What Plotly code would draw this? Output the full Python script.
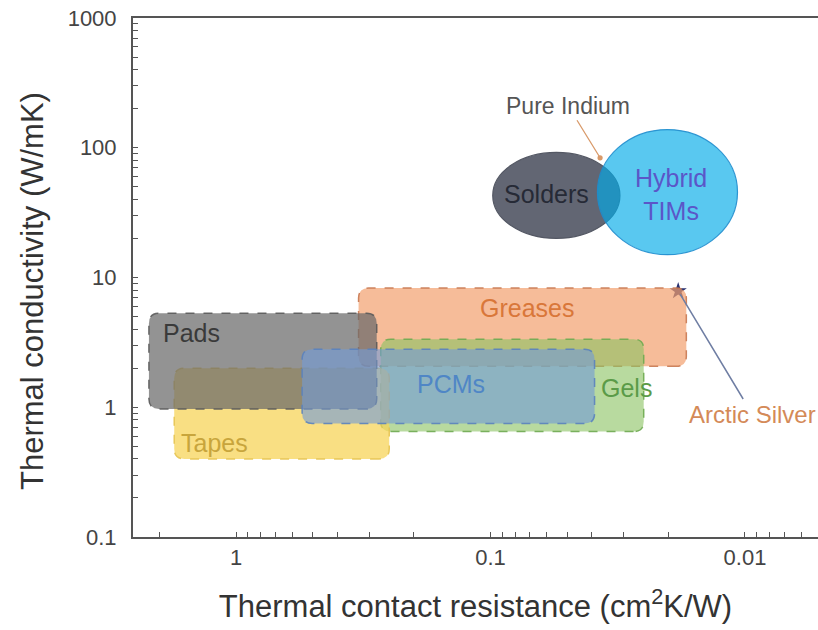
import numpy as np
import plotly.graph_objects as go

# Material classes: contact-resistance span (cm^2K/W) and conductivity span (W/mK)
box_names = ["Greases", "Gels", "Tapes", "Pads", "PCMs"]
box_r_hi = [0.33, 0.27, 1.75, 2.2, 0.55]
box_r_lo = [0.017, 0.025, 0.25, 0.28, 0.039]
box_k_lo = [2.07, 0.65, 0.40, 0.97, 0.75]
box_k_hi = [8.3, 3.35, 2.0, 5.3, 2.8]

oval_names = ["Solders", "Hybrid<br>TIMs"]
oval_r_hi = [0.098, 0.038]
oval_r_lo = [0.031, 0.0107]
oval_k_lo = [20, 15]
oval_k_hi = [92, 138]

# Single products
arctic_r, arctic_k = [0.0183], [7.87]
indium_r, indium_k = 0.0371, 83.7

x_tick_vals = [1, 0.1, 0.01]
x_tick_text = ["1", "0.1", "0.01"]
y_tick_vals = [0.1, 1, 10, 100, 1000]
y_tick_text = ["0.1", "1", "10", "100", "1000"]

FONT = "Arial, Liberation Sans, sans-serif"
AXIS_COLOR = "#555555"

box_style = {
    "Greases": dict(fill="rgba(242,160,110,0.70)", line="rgba(200,120,80,0.9)", text="#d9773a"),
    "Gels": dict(fill="rgba(140,195,100,0.62)", line="rgba(110,170,80,0.9)", text="#5b9b48"),
    "Tapes": dict(fill="rgba(247,212,90,0.75)", line="rgba(230,195,80,0.9)", text="#c8a53c"),
    "Pads": dict(fill="rgba(105,105,105,0.72)", line="rgba(90,90,90,0.9)", text="#3a3a3a"),
    "PCMs": dict(fill="rgba(115,155,215,0.62)", line="rgba(90,130,190,0.9)", text="#4f86c6"),
}
# label anchors (resistance, conductivity)
label_at = {
    "Greases": (0.0719, 5.81),
    "Gels": (0.0291, 1.40),
    "Tapes": (1.21, 0.527),
    "Pads": (1.50, 3.73),
    "PCMs": (0.143, 1.506),
    "Solders": (0.060, 44.2),
    "Hybrid<br>TIMs": (0.0195, 43.4),
}

RX, RY = 0.04, 0.078  # corner radius in decades


def rounded_box(r_a, r_b, k_a, k_b):
    x1, x2 = sorted([np.log10(r_a), np.log10(r_b)])
    y1, y2 = sorted([np.log10(k_a), np.log10(k_b)])

    def p(x, y):
        return f"{10 ** x:.6g},{10 ** y:.6g}"

    return (
        f"M {p(x1 + RX, y1)} L {p(x2 - RX, y1)} Q {p(x2, y1)} {p(x2, y1 + RY)} "
        f"L {p(x2, y2 - RY)} Q {p(x2, y2)} {p(x2 - RX, y2)} "
        f"L {p(x1 + RX, y2)} Q {p(x1, y2)} {p(x1, y2 - RY)} "
        f"L {p(x1, y1 + RY)} Q {p(x1, y1)} {p(x1 + RX, y1)} Z"
    )


def label(name, color, size=25):
    lx, ly = label_at[name]
    return dict(
        x=np.log10(lx), y=np.log10(ly), xref="x", yref="y", text=name,
        showarrow=False, font=dict(family=FONT, size=size, color=color),
    )


shapes = []
annotations = []
for i, name in enumerate(box_names):
    st = box_style[name]
    shapes.append(dict(
        type="path", xref="x", yref="y", layer="above",
        path=rounded_box(box_r_hi[i], box_r_lo[i], box_k_lo[i], box_k_hi[i]),
        fillcolor=st["fill"], line=dict(color=st["line"], width=1.5, dash="dash"),
    ))
    annotations.append(label(name, st["text"]))

oval_style = [
    dict(fill="rgb(98,102,115)", line="rgb(84,88,100)", text="#262a36"),
    dict(fill="rgba(0,171,232,0.65)", line="rgba(30,140,205,0.9)", text="#5b56c8"),
]
for i, name in enumerate(oval_names):
    st = oval_style[i]
    shapes.append(dict(
        type="circle", xref="x", yref="y", layer="above",
        x0=oval_r_hi[i], x1=oval_r_lo[i], y0=oval_k_lo[i], y1=oval_k_hi[i],
        fillcolor=st["fill"], line=dict(color=st["line"], width=1.2),
    ))
    annotations.append(label(name, st["text"]))

# callouts
annotations.append(dict(
    x=np.log10(indium_r), y=np.log10(indium_k), xref="x", yref="y",
    text="Pure Indium", showarrow=True, arrowhead=6, arrowsize=1, arrowwidth=1.3,
    arrowcolor="#d99a6a", ax=-32, ay=-52,
    font=dict(family=FONT, size=23, color="#555555"),
))
annotations.append(dict(
    x=np.log10(arctic_r[0]), y=np.log10(arctic_k[0]), xref="x", yref="y",
    text="Arctic Silver", showarrow=True, arrowhead=0, arrowwidth=1.5,
    arrowcolor="#6f7ea3", ax=74, ay=123, standoff=4,
    font=dict(family=FONT, size=24, color="#d48a58"),
))
annotations.append(dict(
    x=-0.146, y=0.474, xref="paper", yref="paper", textangle=-90,
    xanchor="center", yanchor="middle",
    text="Thermal conductivity (W/mK)", showarrow=False,
    font=dict(family=FONT, size=31, color="#333333"),
))

fig = go.Figure()
fig.add_trace(go.Scatter(
    x=arctic_r, y=arctic_k, mode="markers",
    marker=dict(symbol="star", size=13, color="#283070"),
    showlegend=False, hoverinfo="skip",
))

# unlabeled intermediate ticks (2..9 within each decade) share the axis tick list
minor_x = [m * 10.0 ** e for e in range(-3, 1) for m in range(2, 10)]
minor_y = [m * 10.0 ** e for e in range(-1, 3) for m in range(2, 10)]
x_all_vals = x_tick_vals + minor_x
x_all_text = x_tick_text + [""] * len(minor_x)
y_all_vals = y_tick_vals + minor_y
y_all_text = y_tick_text + [""] * len(minor_y)

fig.update_layout(
    width=818, height=630,
    margin=dict(l=133, r=0, t=18, b=93),
    paper_bgcolor="white", plot_bgcolor="white",
    shapes=shapes, annotations=annotations, showlegend=False,
    xaxis=dict(
        type="log", range=[0.405, -2.287], tickmode="array",
        tickvals=x_all_vals, ticktext=x_all_text,
        ticks="inside", ticklen=5, tickwidth=1.3, tickcolor=AXIS_COLOR,
        showline=True, linecolor=AXIS_COLOR, linewidth=2, mirror=True,
        showgrid=False, zeroline=False, ticklabelstandoff=0,
        tickfont=dict(family=FONT, size=22, color="#444444"),
        title=dict(text="Thermal contact resistance (cm<sup>2</sup>K/W)", standoff=26,
                   font=dict(family=FONT, size=31, color="#333333")),
    ),
    yaxis=dict(
        type="log", range=[-1, 3], tickmode="array",
        tickvals=y_all_vals, ticktext=y_all_text,
        ticks="inside", ticklen=5, tickwidth=1.3, tickcolor=AXIS_COLOR,
        showline=True, linecolor=AXIS_COLOR, linewidth=2, mirror=False,
        showgrid=False, zeroline=False, ticklabelstandoff=10,
        tickfont=dict(family=FONT, size=22, color="#444444"),
    ),
)

fig.write_html("out.html")
